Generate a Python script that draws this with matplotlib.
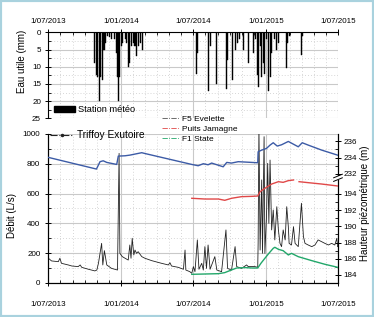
import numpy as np
import pandas as pd
import matplotlib
matplotlib.use('Agg')
import matplotlib.pyplot as plt
import matplotlib.dates as mdates
from matplotlib.lines import Line2D
from matplotlib.patches import Patch, Rectangle
from matplotlib.ticker import MultipleLocator, FixedLocator, FuncFormatter

plt.rcParams['font.family'] = ['Liberation Sans', 'DejaVu Sans']

start = pd.Timestamp('2013-07-01')
end = pd.Timestamp('2015-07-01')

# Eau utile (mm), days since 1/07/2013
rain_days = [118, 122, 125, 129, 133, 137, 141, 145, 149, 154, 160, 167, 173, 175, 177, 180,
             184, 188, 194, 198, 203, 206, 211, 215, 219, 223, 227, 232, 237,
             374, 377, 405, 408, 423, 450, 453, 465, 471, 476, 482, 492, 504, 517, 523,
             527, 530, 534, 538, 542, 546, 550, 554, 559, 563, 571, 575, 580, 601, 604,
             609, 638, 641]
rain_mm = [9, 12.5, 13, 20, 13, 14, 5, 3, 1, 1.5, 2, 2, 6, 13, 20, 13,
           4, 3, 2, 3, 10, 9, 4, 3, 4, 7, 4, 3, 5,
           12, 6, 17, 4, 15, 16.5, 8, 14, 5, 3, 2, 5, 9, 6, 2,
           12.5, 16, 4, 13, 9, 12, 2, 17, 13, 6, 2, 5, 3, 10.5, 3,
           1, 6.5, 1]

# Triffoy Exutoire (L/s)
q_days = [1, 9, 26, 30, 34, 51, 60, 76, 81, 85, 102, 118, 123, 127, 135, 138, 142, 148,
          160, 175, 179, 181, 187, 194, 202, 206, 209, 212, 216, 219, 223, 227, 236, 244,
          261, 286, 303, 307, 311, 328, 341, 345, 347, 357, 362, 366, 370, 376, 380, 387,
          391, 395, 399, 403, 408, 420, 425, 437, 448, 452, 462, 471, 475, 487, 500, 504,
          521, 528, 529, 531, 534, 538, 540, 544, 546, 550, 553, 556, 559, 563, 567, 571,
          576, 580, 584, 588, 592, 597, 601, 605, 607, 613, 618, 622, 630, 638, 643, 647,
          655, 664, 672, 680, 689, 697, 706, 714, 722, 727, 729]
q_ls = [166, 148, 143, 166, 132, 121, 114, 110, 121, 105, 92, 81, 87, 132, 266, 121, 217, 121,
        98, 87, 870, 199, 177, 166, 154, 255, 166, 300, 188, 221, 199, 210, 177, 166,
        150, 132, 121, 136, 114, 105, 92, 221, 87, 76, 65, 110, 76, 289, 92, 132,
        87, 244, 98, 255, 92, 177, 87, 76, 356, 98, 87, 244, 110, 98, 121, 110,
        110, 105, 266, 1050, 221, 691, 199, 982, 199, 445, 803, 400, 825, 356, 490, 289,
        512, 356, 266, 244, 356, 289, 512, 378, 266, 255, 378, 266, 244, 535, 311, 266,
        255, 244, 255, 289, 277, 266, 255, 266, 255, 300, 244]

# F5 Evelette (m)
f5_days = [1, 122, 131, 139, 148, 173, 177, 194, 206, 215, 236, 244, 362, 378, 391, 403,
           412, 441, 450, 462, 479, 513, 528, 529, 538, 550, 559, 567, 577, 588, 605, 630,
           640, 655, 689, 729]
f5_m = [234.02, 232.58, 233.49, 233.6, 233.4, 233.15, 234.18, 234.22, 234.3, 234.39, 234.6,
        234.5, 233.15, 232.99, 233.24, 233.11, 233.32, 232.86, 233.4, 233.32, 233.49, 233.4,
        233.36, 234.72, 234.92, 235.13, 235.54, 235.83, 235.42, 235.58, 235.99, 235.33,
        235.83, 235.54, 234.92, 234.3]

# Puits Jamagne (m), gap in April 2015
pj_days = [362, 395, 429, 445, 462, 487, 513, 528, 534, 546, 563, 580, 592, 605, 618,
           619, 632, 655, 689, 729]
pj_m = [193.47, 193.38, 193.38, 193.22, 193.47, 193.67, 193.71, 193.75, 194.29, 194.7,
        195.23, 195.52, 195.44, 195.65, 195.73, np.nan, 195.52, 195.4, 195.23, 194.99]

# F1 State (m)
f1_days = [362, 395, 429, 445, 462, 475, 496, 513, 528, 536, 546, 556, 567, 571, 580, 592,
           605, 613, 630, 664, 697, 729]
f1_m = [184.08, 184.12, 184.16, 184.29, 184.62, 184.86, 184.91, 184.86, 184.86, 185.44,
        186.06, 186.67, 187.29, 187.42, 187.17, 187.0, 186.47, 186.67, 186.26, 185.77,
        185.32, 184.95]

right_ticks = [184, 186, 188, 190, 192, 194, 232, 234, 236]


def to_dates(days):
    return start + pd.to_timedelta(days, unit='D')


def piezo(v):
    # broken right axis: 232 m sits just above 194 m
    v = np.asarray(v, float)
    return np.where(v >= 220, v - 232 + 196.5, v)


def date_fmt(x, pos):
    d = mdates.num2date(x)
    return f'{d.day}/{d.month:02d}/{d.year}'


grid_c = '#c9c9c9'
blue = '#3c5ba6'
red = '#e04848'
green = '#22a76a'
dark = '#222222'

fig = plt.figure(figsize=(3.74, 3.17), dpi=100)
ax1 = fig.add_axes([0.1283, 0.6268, 0.7754, 0.2713])
ax2 = fig.add_axes([0.1283, 0.1073, 0.7754, 0.470])
ax3 = ax2.twinx()

# top panel: rain bars hanging from 0
ax1.bar(to_dates(rain_days), rain_mm, width=2.6, color='black', edgecolor='black',
        linewidth=0.3, zorder=3)
ax1.set_xlim(start, end)
ax1.set_ylim(25, 0)
ax1.xaxis.tick_top()
ax1.xaxis.set_major_locator(mdates.MonthLocator(bymonth=[1, 7]))
ax1.xaxis.set_minor_locator(mdates.MonthLocator())
ax1.xaxis.set_major_formatter(FuncFormatter(date_fmt))
ax1.yaxis.set_major_locator(MultipleLocator(5))
ax1.yaxis.set_minor_locator(MultipleLocator(2.5))
ax1.spines['bottom'].set_visible(False)
ax1.spines['right'].set_visible(False)
ax1.grid(which='major', color=grid_c, lw=0.8, zorder=0)
ax1.grid(which='minor', color=grid_c, lw=0.6, ls=(0, (1, 2.5)), zorder=0)
ax1.set_axisbelow(True)
ax1.tick_params(axis='both', which='major', direction='inout', length=4, width=0.7,
                labelsize=5.8, pad=3)
ax1.tick_params(axis='both', which='minor', direction='in', length=2, width=0.6)
ax1.tick_params(axis='x', which='both', bottom=False)
ax1.set_ylabel('Eau utile (mm)', fontsize=7)
ax1.yaxis.set_label_coords(-0.072, 0.66)
ax1.legend(handles=[Patch(facecolor='black', edgecolor='black')], labels=['Station météo'],
           loc='center left', bbox_to_anchor=(0.144, 0.653), bbox_transform=fig.transFigure,
           frameon=False, fontsize=6.7, handlelength=2.25, handleheight=0.65,
           handletextpad=0.3, borderpad=0, borderaxespad=0)

# bottom panel: discharge
ax2.plot(to_dates(q_days), q_ls, color=dark, lw=0.6, zorder=3)
ax2.set_xlim(start, end)
ax2.set_ylim(0, 1000)
ax2.xaxis.set_major_locator(mdates.MonthLocator(bymonth=[1, 7]))
ax2.xaxis.set_minor_locator(mdates.MonthLocator())
ax2.xaxis.set_major_formatter(FuncFormatter(date_fmt))
ax2.yaxis.set_major_locator(MultipleLocator(200))
ax2.yaxis.set_minor_locator(MultipleLocator(100))
ax2.spines['top'].set_visible(False)
ax2.grid(which='major', color=grid_c, lw=0.8, zorder=0)
ax2.grid(which='minor', color=grid_c, lw=0.6, ls=(0, (1, 2.5)), zorder=0)
ax2.set_axisbelow(True)
ax2.tick_params(axis='both', which='major', direction='inout', length=4, width=0.7,
                labelsize=5.8)
ax2.tick_params(axis='x', which='major', pad=11)
ax2.tick_params(axis='both', which='minor', direction='in', length=2, width=0.6)
ax2.set_ylabel('Débit (L/s)', fontsize=7)
ax2.yaxis.set_label_coords(-0.107, 0.456)

# right axis: piezometric heads
ax3.plot(to_dates(f5_days), piezo(f5_m), color=blue, lw=1.0, zorder=4)
ax3.plot(to_dates(pj_days), piezo(pj_m), color=red, lw=1.0, zorder=4)
ax3.plot(to_dates(f1_days), piezo(f1_m), color=green, lw=1.0, zorder=4)
ax3.set_ylim(183.01, 201.41)
ax3.yaxis.set_major_locator(FixedLocator(piezo(right_ticks)))
ax3.yaxis.set_major_formatter(FuncFormatter(lambda v, p: str(right_ticks[p]) if p is not None else ''))
ax3.yaxis.set_minor_locator(FixedLocator(piezo([185, 187, 189, 191, 193, 233, 235])))
ax3.spines['top'].set_visible(False)
ax3.tick_params(axis='y', which='major', direction='inout', length=4, width=0.7,
                labelsize=5.8, pad=2)
ax3.tick_params(axis='y', which='minor', direction='in', length=2, width=0.6)
ax3.set_ylabel('Hauteur piézométrique (m)', fontsize=7)
ax3.yaxis.set_label_coords(1.076, 0.537)

# axis break marks on the right spine
fb = (196.0 - 183.01) / (201.41 - 183.01)
ax3.add_patch(Rectangle((0.985, fb - 0.012), 0.03, 0.024, transform=ax3.transAxes,
                        facecolor='white', edgecolor='none', clip_on=False, zorder=5))
for dy in (-0.012, 0.012):
    ax3.plot([0.985, 1.015], [fb + dy - 0.012, fb + dy + 0.012], transform=ax3.transAxes,
             color='black', lw=0.7, clip_on=False, zorder=6)

# legends
leg1 = ax3.legend(handles=[Line2D([], [], color=dark, ls='-.', lw=0.8, marker='.', markersize=3)],
                  labels=['Triffoy Exutoire'], loc='upper left', numpoints=1,
                  bbox_to_anchor=(0.134, 0.589), bbox_transform=fig.transFigure,
                  frameon=False, fontsize=7.3, handlelength=2.3, handletextpad=0.4,
                  borderpad=0, borderaxespad=0)
ax3.add_artist(leg1)
h2 = [Line2D([], [], color='#555555', ls='-.', lw=0.6),
      Line2D([], [], color=red, ls='-.', lw=0.6),
      Line2D([], [], color=green, ls='-.', lw=0.6)]
ax3.legend(handles=h2, labels=['F5 Evelette', 'Puits Jamagne', 'F1 State'],
           loc='upper left', bbox_to_anchor=(0.433, 0.636), bbox_transform=fig.transFigure,
           frameon=False, fontsize=6, handlelength=2, handletextpad=0.4,
           labelspacing=0.25, borderpad=0, borderaxespad=0)

# light blue frame around the picture
fig.add_artist(Rectangle((0, 0), 1, 1, transform=fig.transFigure, fill=False,
                         edgecolor='#a9d2de', lw=3))

fig.savefig('out.png', dpi=100)
